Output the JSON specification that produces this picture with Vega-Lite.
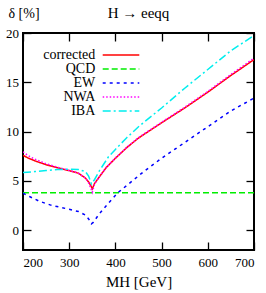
{
  "$schema": "https://vega.github.io/schema/vega-lite/v6.json",
  "width": 231,
  "height": 217,
  "autosize": "none",
  "padding": {"left": 23, "top": 33, "right": 12, "bottom": 43},
  "background": "white",
  "title": {"text": "H → eeqq", "font": "Liberation Serif", "fontSize": 15, "fontWeight": "normal", "color": "black", "offset": -15, "anchor": "middle", "frame": "group"},
  "config": {
    "view": {"stroke": "black", "strokeWidth": 2},
    "axis": {"grid": false, "domain": false, "tickColor": "black", "tickWidth": 1.3, "tickSize": -8, "labelFont": "Liberation Serif", "labelFontSize": 13, "labelColor": "black", "titleFont": "Liberation Serif", "titleFontSize": 15, "titleFontWeight": "normal", "titleColor": "black"},
    "legend": {"labelFont": "Liberation Serif", "labelFontSize": 14, "labelColor": "black"}
  },
  "data": {"values": [
    {"x": 200, "s": "corrected", "y": 7.6}, {"x": 210, "s": "corrected", "y": 7.35}, {"x": 225, "s": "corrected", "y": 7.05}, {"x": 250, "s": "corrected", "y": 6.65}, {"x": 275, "s": "corrected", "y": 6.33}, {"x": 300, "s": "corrected", "y": 6.05}, {"x": 320, "s": "corrected", "y": 5.78}, {"x": 335, "s": "corrected", "y": 5.3}, {"x": 342, "s": "corrected", "y": 4.9}, {"x": 347, "s": "corrected", "y": 4.5}, {"x": 350, "s": "corrected", "y": 4.2}, {"x": 355, "s": "corrected", "y": 4.75}, {"x": 365, "s": "corrected", "y": 5.4}, {"x": 380, "s": "corrected", "y": 6.35}, {"x": 400, "s": "corrected", "y": 7.3}, {"x": 425, "s": "corrected", "y": 8.4}, {"x": 450, "s": "corrected", "y": 9.35}, {"x": 500, "s": "corrected", "y": 10.9}, {"x": 550, "s": "corrected", "y": 12.4}, {"x": 600, "s": "corrected", "y": 14.0}, {"x": 650, "s": "corrected", "y": 15.7}, {"x": 700, "s": "corrected", "y": 17.3},
    {"x": 200, "s": "QCD", "y": 3.8}, {"x": 700, "s": "QCD", "y": 3.8},
    {"x": 200, "s": "EW", "y": 3.75}, {"x": 215, "s": "EW", "y": 3.4}, {"x": 235, "s": "EW", "y": 2.95}, {"x": 260, "s": "EW", "y": 2.55}, {"x": 300, "s": "EW", "y": 2.13}, {"x": 320, "s": "EW", "y": 1.9}, {"x": 335, "s": "EW", "y": 1.55}, {"x": 342, "s": "EW", "y": 1.15}, {"x": 348, "s": "EW", "y": 0.65}, {"x": 352, "s": "EW", "y": 0.8}, {"x": 365, "s": "EW", "y": 1.65}, {"x": 385, "s": "EW", "y": 2.75}, {"x": 405, "s": "EW", "y": 3.8}, {"x": 430, "s": "EW", "y": 4.75}, {"x": 460, "s": "EW", "y": 5.9}, {"x": 500, "s": "EW", "y": 7.3}, {"x": 550, "s": "EW", "y": 8.9}, {"x": 600, "s": "EW", "y": 10.5}, {"x": 650, "s": "EW", "y": 12.1}, {"x": 700, "s": "EW", "y": 13.4},
    {"x": 200, "s": "NWA", "y": 7.95}, {"x": 210, "s": "NWA", "y": 7.6}, {"x": 225, "s": "NWA", "y": 7.22}, {"x": 250, "s": "NWA", "y": 6.75}, {"x": 275, "s": "NWA", "y": 6.38}, {"x": 300, "s": "NWA", "y": 6.07}, {"x": 320, "s": "NWA", "y": 5.8}, {"x": 335, "s": "NWA", "y": 5.3}, {"x": 342, "s": "NWA", "y": 4.8}, {"x": 347, "s": "NWA", "y": 4.25}, {"x": 350, "s": "NWA", "y": 3.85}, {"x": 355, "s": "NWA", "y": 4.7}, {"x": 365, "s": "NWA", "y": 5.4}, {"x": 380, "s": "NWA", "y": 6.37}, {"x": 400, "s": "NWA", "y": 7.33}, {"x": 425, "s": "NWA", "y": 8.43}, {"x": 450, "s": "NWA", "y": 9.4}, {"x": 500, "s": "NWA", "y": 10.95}, {"x": 550, "s": "NWA", "y": 12.47}, {"x": 600, "s": "NWA", "y": 14.08}, {"x": 650, "s": "NWA", "y": 15.8}, {"x": 700, "s": "NWA", "y": 17.45},
    {"x": 200, "s": "IBA", "y": 5.85}, {"x": 225, "s": "IBA", "y": 5.95}, {"x": 250, "s": "IBA", "y": 6.05}, {"x": 275, "s": "IBA", "y": 6.15}, {"x": 300, "s": "IBA", "y": 6.2}, {"x": 320, "s": "IBA", "y": 6.15}, {"x": 335, "s": "IBA", "y": 5.95}, {"x": 342, "s": "IBA", "y": 5.5}, {"x": 348, "s": "IBA", "y": 4.7}, {"x": 355, "s": "IBA", "y": 5.15}, {"x": 365, "s": "IBA", "y": 6.0}, {"x": 385, "s": "IBA", "y": 7.45}, {"x": 400, "s": "IBA", "y": 8.2}, {"x": 425, "s": "IBA", "y": 9.4}, {"x": 450, "s": "IBA", "y": 10.5}, {"x": 500, "s": "IBA", "y": 12.4}, {"x": 550, "s": "IBA", "y": 14.4}, {"x": 600, "s": "IBA", "y": 16.3}, {"x": 650, "s": "IBA", "y": 18.2}, {"x": 700, "s": "IBA", "y": 19.75}
  ]},
  "resolve": {"axis": {"x": "independent", "y": "independent"}},
  "layer": [
    {
      "mark": {"type": "line", "strokeWidth": 1.5, "clip": true},
      "encoding": {
        "x": {"field": "x", "type": "quantitative", "scale": {"domain": [200, 700], "nice": false}, "axis": {"orient": "bottom", "values": [200, 300, 400, 500, 600, 700], "labelPadding": 14, "title": "MH [GeV]", "titlePadding": 5}},
        "y": {"field": "y", "type": "quantitative", "scale": {"domain": [-2, 20], "nice": false, "zero": false}, "axis": {"orient": "left", "values": [0, 5, 10, 15, 20], "labelPadding": 12.5, "title": "δ [%]", "titleAngle": 0, "titleAlign": "left", "titleBaseline": "alphabetic", "titleX": -15, "titleY": -16, "titleFontSize": 14}},
        "color": {"field": "s", "type": "nominal", "scale": {"domain": ["corrected", "QCD", "EW", "NWA", "IBA"], "range": ["#ff0000", "#00ee00", "#0000ff", "#ff00ff", "#00eeee"]}, "legend": {"orient": "none", "legendX": 91, "legendY": 15, "title": null, "symbolType": "M-3.05,0H3.05", "symbolSize": 144, "symbolStrokeWidth": 1.5, "labelAlign": "right", "labelOffset": -32.7, "rowPadding": 0, "labelBaseline": "middle"}},
        "strokeDash": {"field": "s", "type": "nominal", "scale": {"domain": ["corrected", "QCD", "EW", "NWA", "IBA"], "range": [[1, 0], [6, 3], [3, 4], [1.5, 2], [8, 3, 2, 3]]}, "legend": {"orient": "none", "legendX": 91, "legendY": 15, "title": null, "symbolType": "M-3.05,0H3.05", "symbolSize": 144, "labelAlign": "right", "labelOffset": -32.7, "rowPadding": 0}},
        "order": {"field": "x", "type": "quantitative"}
      }
    },
    {
      "mark": {"type": "line", "strokeOpacity": 0},
      "encoding": {
        "x": {"field": "x", "type": "quantitative", "axis": {"orient": "top", "values": [200, 300, 400, 500, 600, 700], "labels": false, "title": null}},
        "y": {"field": "y", "type": "quantitative", "axis": {"orient": "right", "values": [0, 5, 10, 15, 20], "labels": false, "title": null}},
        "detail": {"field": "s", "type": "nominal"}
      }
    }
  ]
}
